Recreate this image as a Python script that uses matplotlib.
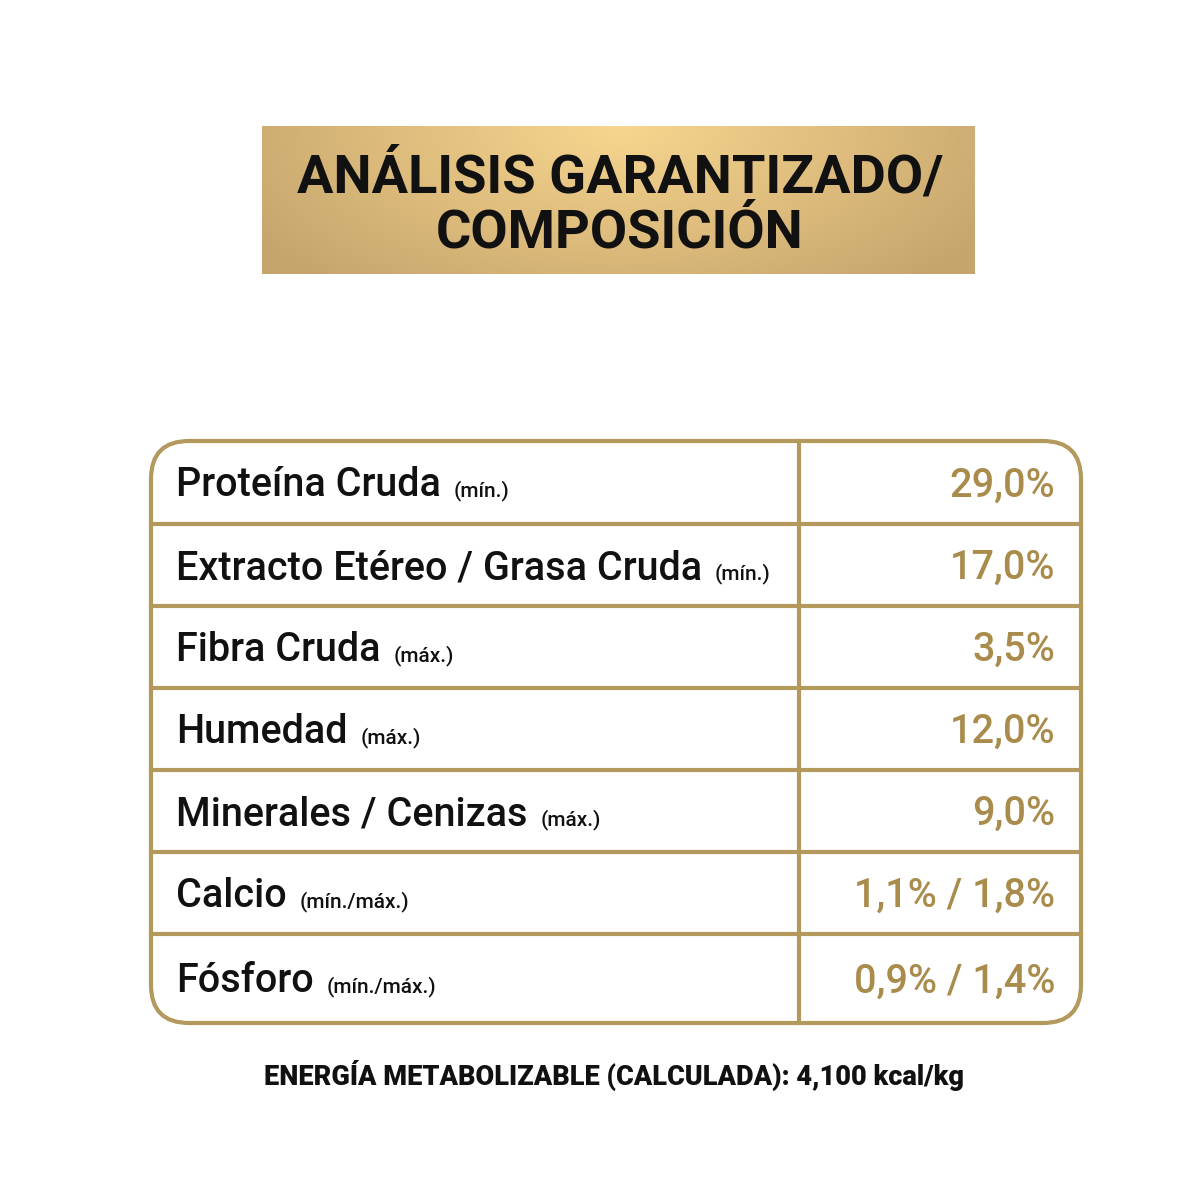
import matplotlib
matplotlib.use("Agg")
import matplotlib.pyplot as plt
import numpy as np
from matplotlib.patches import FancyBboxPatch

title_lines = ["ANÁLISIS GARANTIZADO/", "COMPOSICIÓN"]
labels = ["Proteína Cruda", "Extracto Etéreo / Grasa Cruda", "Fibra Cruda", "Humedad",
          "Minerales / Cenizas", "Calcio", "Fósforo"]
suffixes = ["(mín.)", "(mín.)", "(máx.)", "(máx.)", "(máx.)", "(mín./máx.)", "(mín./máx.)"]
values = ["29,0%", "17,0%", "3,5%", "12,0%", "9,0%", "1,1% / 1,8%", "0,9% / 1,4%"]
footer = "ENERGÍA METABOLIZABLE (CALCULADA): 4,100 kcal/kg"

plt.rcParams['font.family'] = ['Roboto', 'DejaVu Sans']
fig = plt.figure(figsize=(12, 12), dpi=100)
ax = fig.add_axes([0, 0, 1, 1])
ax.set_xlim(0, 1200); ax.set_ylim(1200, 0); ax.axis('off')

h, w = 100, 300
yy, xx = np.mgrid[0:h, 0:w]
d = np.sqrt(((xx - w * 0.5) / (w * 0.6)) ** 2 + ((yy) / (h * 1.4)) ** 2)
d = np.clip(d, 0, 1)
light = np.array([0.97, 0.84, 0.56]); dark = np.array([0.78, 0.65, 0.43])
img = light[None, None, :] * (1 - d[..., None]) + dark[None, None, :] * d[..., None]
ax.imshow(img, extent=(262, 975, 274, 126), aspect='auto', zorder=1)
for i, line in enumerate(title_lines):
    ax.text(620, 177 + i * 56, line, ha='center', va='center', fontsize=39,
            fontweight='bold', color='#111111', zorder=2)

gold = '#b39a5c'
vgold = '#a98c4c'
box = FancyBboxPatch((151, 441), 930, 582, boxstyle="round,pad=0,rounding_size=38",
                     fc='white', ec=gold, lw=3, zorder=2)
ax.add_patch(box)
ax.plot([799, 799], [441, 1023], color=gold, lw=3, zorder=3)
lines_y = [524, 606, 688, 770, 852, 934]
for y in lines_y:
    ax.plot([151, 1081], [y, y], color=gold, lw=3, zorder=3)

bounds = [441] + lines_y + [1023]
fig.canvas.draw()
r = fig.canvas.get_renderer()
inv = ax.transData.inverted()
for i, (lab, suf, val) in enumerate(zip(labels, suffixes, values)):
    yb = (bounds[i] + bounds[i + 1]) / 2 + 14
    t = ax.text(176, yb, lab, ha='left', va='baseline', fontsize=28.5,
                fontweight='medium', color='#111111', zorder=4)
    bb = t.get_window_extent(r)
    xe = inv.transform((bb.x1, bb.y0))[0]
    ax.text(xe + 13, yb, suf, ha='left', va='baseline', fontsize=15,
            fontweight='medium', color='#111111', zorder=4)
    ax.text(1055, yb, val, ha='right', va='baseline', fontsize=28.5,
            fontweight='medium', color=vgold, zorder=4)

ax.text(614, 1075, footer, ha='center', va='center', fontsize=19.5,
        fontweight='black', color='#111111')
fig.savefig("out.png", dpi=100, facecolor='white')
